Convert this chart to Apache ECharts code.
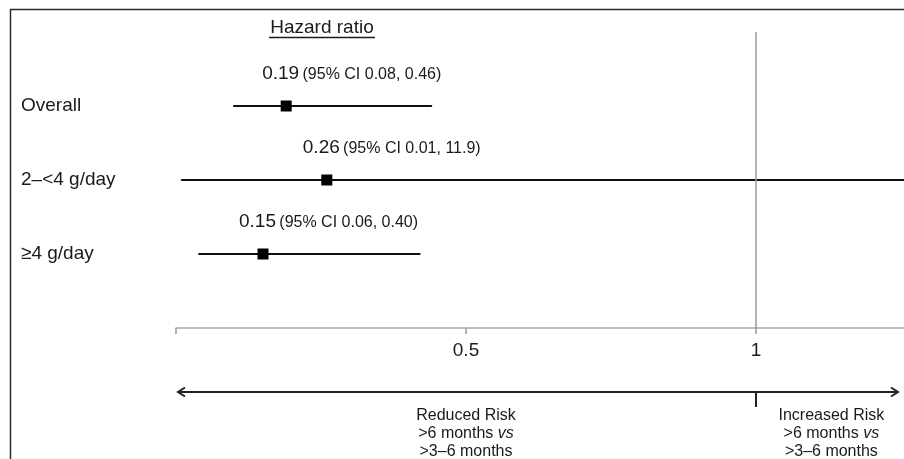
<!DOCTYPE html>
<html>
<head>
<meta charset="utf-8">
<script src="https://cdn.jsdelivr.net/npm/echarts@6/dist/echarts.min.js"></script>
<style>
html,body{margin:0;padding:0;background:#fff;}
#chart{width:904px;height:459px;}
</style>
</head>
<body>
<div id="chart"></div>
<script>
// ---- data ----
const rowLabels = ['Overall', '2–<4 g/day', '≥4 g/day'];
const rowPos = [1, 2, 3];
const hr = [0.19, 0.26, 0.15];
const ciLowDrawn = [0.10, 0.01, 0.04];
const ciHighDrawn = [0.44, 11.9, 0.42];
const hrText = ['0.19', '0.26', '0.15'];
const ciLowText = ['0.08', '0.01', '0.06'];
const ciHighText = ['0.46', '11.9', '0.40'];
const tickValues = [0, 0.5, 1];
const labelValues = [0.5, 1];
const tickLabels = ['0.5', '1'];
const refValue = 1;
const xMax = 1.2552;
const reducedPos = 0.5;
const increasedPos = 1.13;
const reducedText = ['Reduced Risk', '>6 months {i|vs}', '>3–6 months'];
const increasedText = ['Increased Risk', '>6 months {i|vs}', '>3–6 months'];

const FONT = '"Liberation Sans", Arial, Helvetica, sans-serif';
const TXT = '#1a1a1a';

const chart = echarts.init(document.getElementById('chart'), null, {renderer: 'canvas'});

const forestData = rowPos.map((r, i) => [r, hr[i], ciLowDrawn[i], ciHighDrawn[i]]);

const option = {
  animation: false,
  backgroundColor: '#fff',
  grid: {left: 176, right: 0, top: 32, height: 296, containLabel: false, outerBoundsMode: 'none'},
  xAxis: {
    type: 'value', min: 0, max: xMax, position: 'bottom',
    splitLine: {show: false},
    axisLine: {show: true, onZero: false, lineStyle: {color: '#aaa', width: 1.5}},
    axisTick: {show: true, length: 6, customValues: tickValues, lineStyle: {color: '#999', width: 1.5}},
    axisLabel: {
      customValues: labelValues, margin: 13,
      fontSize: 19, fontFamily: FONT, color: TXT,
      formatter: v => tickLabels[labelValues.indexOf(v)] || ''
    }
  },
  yAxis: {
    type: 'value', inverse: true, min: 0, max: 4,
    splitLine: {show: false}, axisLine: {show: false, onZero: false}, axisTick: {show: false},
    axisLabel: {
      customValues: rowPos, align: 'left', margin: 155,
      fontSize: 19, fontFamily: FONT, color: TXT, padding: [0, 0, 6, 0],
      formatter: v => rowLabels[rowPos.indexOf(v)] || ''
    }
  },
  series: [
    {
      type: 'line', silent: true, symbol: 'none',
      data: [[refValue, 0], [refValue, 4]],
      lineStyle: {color: '#9a9a9a', width: 1.5}
    },
    {
      type: 'custom', silent: true,
      data: forestData,
      encode: {x: [1, 2, 3], y: 0},
      renderItem: function (params, api) {
        const i = params.dataIndex;
        const row = api.value(0);
        const p = api.coord([api.value(1), row]);
        const a = api.coord([api.value(2), row]);
        const b = api.coord([api.value(3), row]);
        const cs = params.coordSys;
        const right = cs.x + cs.width;
        const left = cs.x;
        const x1 = Math.max(a[0], left), x2 = Math.min(b[0], right);
        return {
          type: 'group',
          children: [
            {type: 'line', shape: {x1: x1, y1: p[1], x2: x2, y2: p[1]},
              style: {stroke: '#111', lineWidth: 2.2, lineCap: 'round'}},
            {type: 'rect', shape: {x: p[0] - 5.5, y: p[1] - 5.5, width: 11, height: 11},
              style: {fill: '#000'}},
            {type: 'text', x: p[0] - 24, y: p[1] - 23,
              style: {
                text: '{a|' + hrText[i] + '} {b|(95% CI ' + ciLowText[i] + ', ' + ciHighText[i] + ')}',
                align: 'left', verticalAlign: 'bottom',
                rich: {
                  a: {fontSize: 19, fontFamily: FONT, fill: TXT, verticalAlign: 'bottom', lineHeight: 20},
                  b: {fontSize: 16, fontFamily: FONT, fill: TXT, verticalAlign: 'bottom', lineHeight: 20}
                }
              }}
          ]
        };
      }
    }
  ]
};
chart.setOption(option);

// annotations placed through the axis scale
const px = v => chart.convertToPixel({xAxisIndex: 0}, v);
const x0 = px(0), xR = px(xMax), x1 = px(refValue);
const arrowY = 392;
const richStyle = {
  i: {fontSize: 16, fontFamily: FONT, fontStyle: 'italic', fill: TXT, lineHeight: 18}
};
chart.setOption({
  graphic: [
    // frame
    {type: 'polyline', silent: true, shape: {points: [[904, 9.5], [10.5, 9.5], [10.5, 459]]},
      style: {stroke: '#2a2a2a', lineWidth: 1.5, fill: null}},
    // title
    {type: 'text', silent: true, x: 322, y: 28,
      style: {text: 'Hazard ratio', fontSize: 19, fontFamily: FONT, fill: TXT, align: 'center', verticalAlign: 'middle'}},
    {type: 'line', silent: true, shape: {x1: 269, y1: 37.5, x2: 375, y2: 37.5},
      style: {stroke: TXT, lineWidth: 1.3}},
    // direction arrow
    {type: 'line', silent: true, shape: {x1: x0 + 2, y1: arrowY, x2: xR - 6, y2: arrowY},
      style: {stroke: '#222', lineWidth: 2}},
    {type: 'polyline', silent: true, shape: {points: [[x0 + 9, arrowY - 4.5], [x0 + 2, arrowY], [x0 + 9, arrowY + 4.5]]},
      style: {stroke: '#222', lineWidth: 2, fill: null}},
    {type: 'polyline', silent: true, shape: {points: [[xR - 13, arrowY - 4.5], [xR - 6, arrowY], [xR - 13, arrowY + 4.5]]},
      style: {stroke: '#222', lineWidth: 2, fill: null}},
    {type: 'line', silent: true, shape: {x1: x1, y1: arrowY, x2: x1, y2: arrowY + 15},
      style: {stroke: '#222', lineWidth: 2}},
    // direction texts
    {type: 'text', silent: true, x: px(reducedPos), y: 407,
      style: {text: reducedText.join('\n'), fontSize: 16, fontFamily: FONT, fill: TXT, lineHeight: 18,
        align: 'center', verticalAlign: 'top', rich: richStyle}},
    {type: 'text', silent: true, x: px(increasedPos), y: 407,
      style: {text: increasedText.join('\n'), fontSize: 16, fontFamily: FONT, fill: TXT, lineHeight: 18,
        align: 'center', verticalAlign: 'top', rich: richStyle}}
  ]
});
</script>
</body>
</html>
